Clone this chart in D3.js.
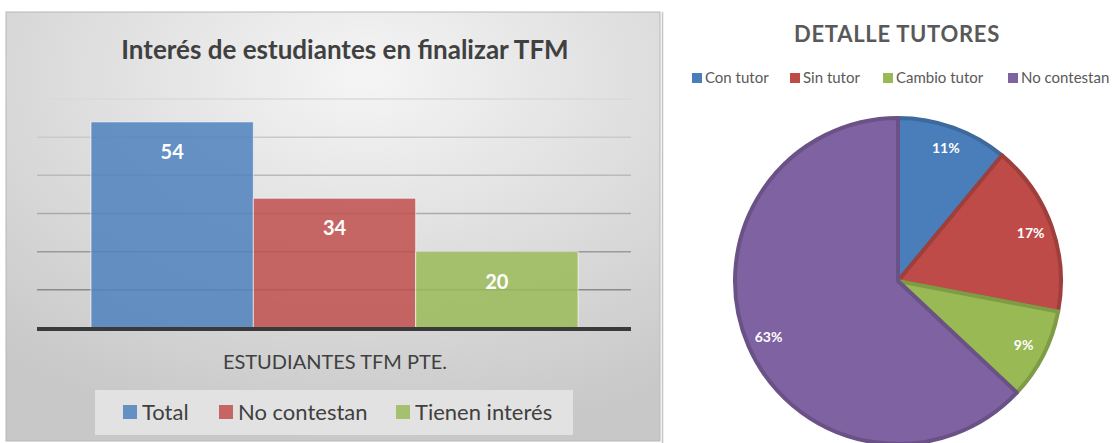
<!DOCTYPE html>
<html lang="es">
<head>
<meta charset="utf-8">
<title>Estudiantes TFM</title>
<script src="https://d3js.org/d3.v7.min.js"></script>
<style>
  body { margin: 0; background: #fff; }
  svg { display: block; font-family: Lato, "Open Sans", sans-serif; }
  .bar-label { font-weight: bold; font-size: 20px; fill: #fff; }
  .pie-label { font-weight: bold; font-size: 14px; fill: #fff; }
</style>
</head>
<body>
<svg width="1115" height="443"></svg>
<script>
// bar chart data
const barNames = ["Total", "No contestan", "Tienen interés"];
const barValues = [54, 34, 20];
const barColors = ["#4f81bd", "#c0504d", "#9bbb59"];
const yTicks = [10, 20, 30, 40, 50, 60];

// pie data
const pieNames = ["Con tutor", "Sin tutor", "Cambio tutor", "No contestan"];
const pieValues = [11, 17, 9, 63];
const pieColors = ["#4a7ebb", "#be4b48", "#98b954", "#7f62a1"];

const svg = d3.select("svg");

// ---------- left: bar chart ----------
const defs = svg.append("defs");
const bg = defs.append("radialGradient")
  .attr("id", "bg")
  .attr("cx", "55%").attr("cy", "15%").attr("r", "85%");
bg.append("stop").attr("offset", "0%").attr("stop-color", "#f5f5f5");
bg.append("stop").attr("offset", "100%").attr("stop-color", "#c8c8c8");

svg.append("rect")
  .attr("x", 6).attr("y", 12).attr("width", 654).attr("height", 429)
  .attr("fill", "url(#bg)")
  .attr("stroke", "#b8b8b8").attr("stroke-width", 1);

svg.append("text")
  .attr("x", 345).attr("y", 59)
  .attr("text-anchor", "middle")
  .style("font-weight", "bold").style("font-size", "26px")
  .attr("fill", "#404040")
  .text("Interés de estudiantes en finalizar TFM");

const plotL = 37, plotR = 631;
const y = d3.scaleLinear().domain([0, 60]).range([328, 99]);
const x = d3.scaleBand().domain(barNames).range([91, 578]).padding(0);

const gridColor = d3.interpolateRgb("#8a8a8a", "#dadada");
svg.append("g").selectAll("line")
  .data(yTicks)
  .join("line")
  .attr("x1", plotL).attr("x2", plotR)
  .attr("y1", d => y(d)).attr("y2", d => y(d))
  .attr("stroke", d => gridColor((d - 10) / 50))
  .attr("stroke-width", 1.5);

svg.append("g").selectAll("rect")
  .data(barValues)
  .join("rect")
  .attr("x", (d, i) => x(barNames[i]))
  .attr("width", x.bandwidth())
  .attr("y", d => y(d))
  .attr("height", d => y(0) - y(d))
  .attr("fill", (d, i) => barColors[i])
  .attr("fill-opacity", 0.85)
  .attr("stroke", "rgba(255,255,255,0.6)")
  .attr("stroke-width", 1);

svg.append("g").selectAll("text")
  .data(barValues)
  .join("text")
  .attr("class", "bar-label")
  .attr("x", (d, i) => x(barNames[i]) + x.bandwidth() / 2)
  .attr("y", d => y(d) + 37)
  .attr("text-anchor", "middle")
  .text(d => d);

// baseline
svg.append("line")
  .attr("x1", plotL).attr("x2", plotR)
  .attr("y1", y(0) + 1).attr("y2", y(0) + 1)
  .attr("stroke", "#3a3a3a").attr("stroke-width", 4);

svg.append("text")
  .attr("x", 335).attr("y", 369)
  .attr("text-anchor", "middle")
  .style("font-size", "20px")
  .attr("fill", "#404040")
  .text("ESTUDIANTES TFM PTE.");

// legend
svg.append("rect")
  .attr("x", 95).attr("y", 390).attr("width", 478).attr("height", 45)
  .attr("fill", "#e2e2e2");
const legX = [123, 219, 396];
const leg = svg.append("g").selectAll("g")
  .data(barNames)
  .join("g")
  .attr("transform", (d, i) => `translate(${legX[i]},412)`);
leg.append("rect")
  .attr("x", 0).attr("y", -7).attr("width", 14).attr("height", 14)
  .attr("fill", (d, i) => barColors[i]).attr("fill-opacity", 0.85);
leg.append("text")
  .attr("x", 19).attr("y", 8)
  .style("font-size", "22px")
  .attr("fill", "#404040")
  .text(d => d);

// divider
svg.append("line")
  .attr("x1", 662.5).attr("x2", 662.5).attr("y1", 12).attr("y2", 443)
  .attr("stroke", "#c4c4c4").attr("stroke-width", 1.5);

// ---------- right: pie chart ----------
svg.append("text")
  .attr("x", 897).attr("y", 42)
  .attr("text-anchor", "middle")
  .style("font-weight", "bold").style("font-size", "22px")
  .style("letter-spacing", "0.7px")
  .attr("fill", "#595959")
  .text("DETALLE TUTORES");

const pLegX = [692, 790, 883, 1008];
const pLeg = svg.append("g").selectAll("g")
  .data(pieNames)
  .join("g")
  .attr("transform", (d, i) => `translate(${pLegX[i]},78)`);
pLeg.append("rect")
  .attr("x", 0).attr("y", -5).attr("width", 10).attr("height", 10)
  .attr("fill", (d, i) => pieColors[i]);
pLeg.append("text")
  .attr("x", 13).attr("y", 5)
  .style("font-size", "15px")
  .attr("fill", "#595959")
  .text(d => d);

const cx = 898, cy = 281, R = 165;
const pie = d3.pie().sort(null);
const arc = d3.arc().innerRadius(0).outerRadius(R - 2);
const labelArc = d3.arc().innerRadius(141).outerRadius(141);

const slices = svg.append("g")
  .attr("transform", `translate(${cx},${cy})`)
  .selectAll("g")
  .data(pie(pieValues))
  .join("g");

slices.append("path")
  .attr("d", arc)
  .attr("fill", (d, i) => pieColors[i])
  .attr("stroke", (d, i) => d3.color(pieColors[i]).darker(0.5))
  .attr("stroke-width", 4)
  .attr("stroke-linejoin", "round");

slices.append("text")
  .attr("class", "pie-label")
  .attr("transform", d => `translate(${labelArc.centroid(d)})`)
  .attr("text-anchor", "middle")
  .attr("dy", "0.35em")
  .text(d => d.value + "%");
</script>
</body>
</html>
